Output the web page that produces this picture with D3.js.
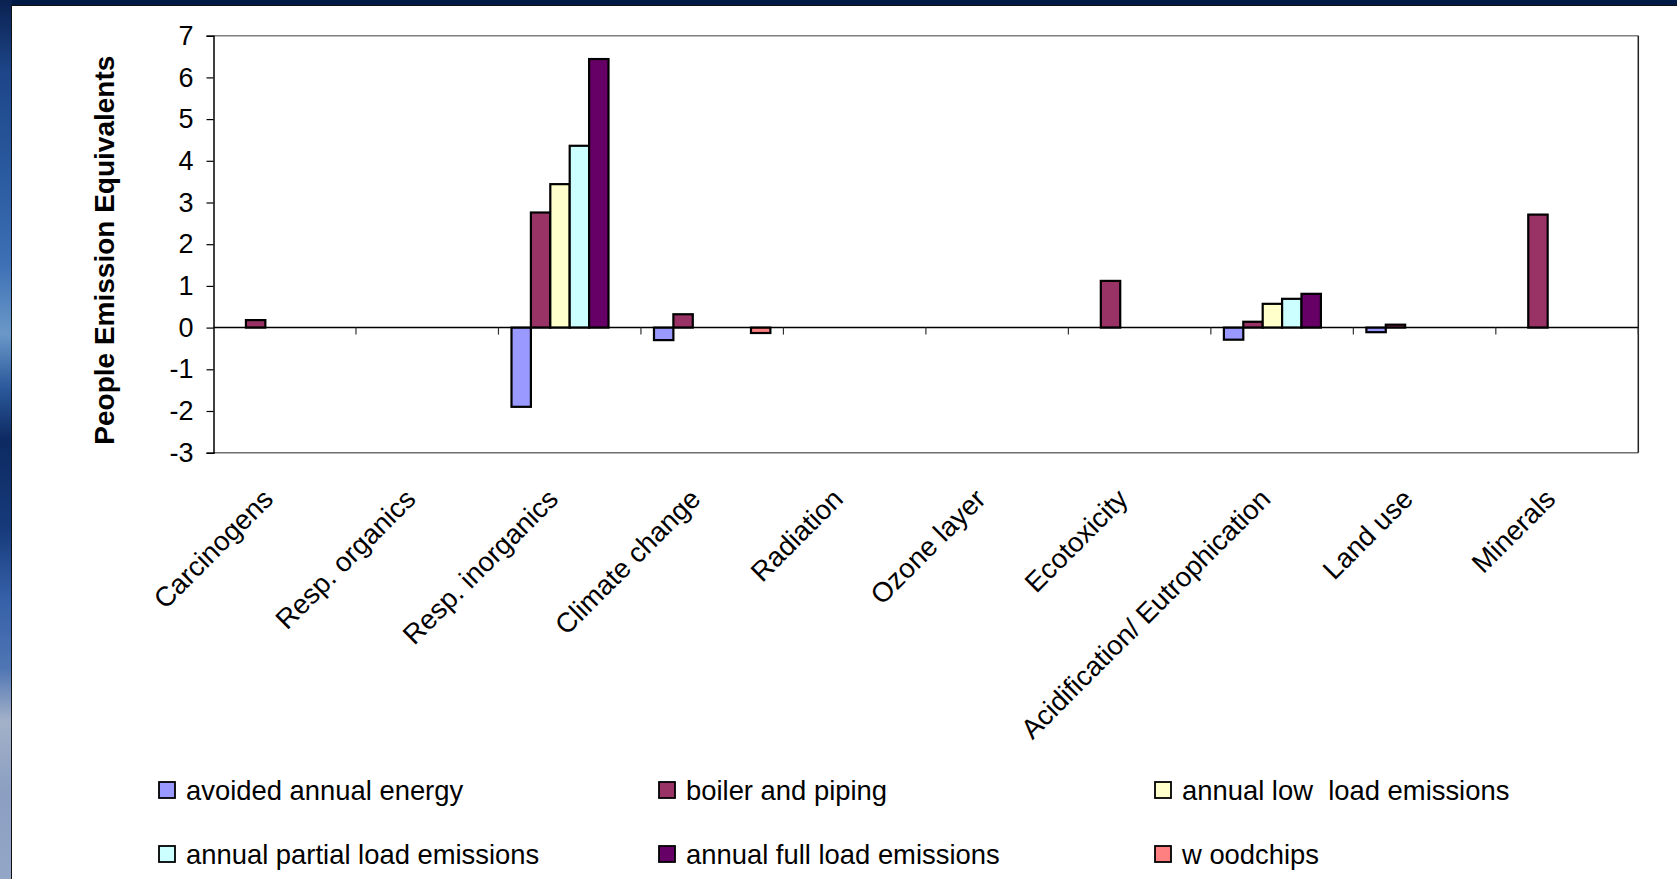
<!DOCTYPE html>
<html>
<head>
<meta charset="utf-8">
<script src="https://cdn.jsdelivr.net/npm/d3@7"></script>
<style>
  html, body { margin: 0; padding: 0; background: #0b2558; }
  svg { display: block; }
  text { font-family: "Liberation Sans", Arial, sans-serif; fill: #000; }
</style>
</head>
<body>
<svg id="chart" width="1677" height="879"></svg>
<script>
// Impact categories along the x axis
const categories = [
  "Carcinogens", "Resp. organics", "Resp. inorganics", "Climate change",
  "Radiation", "Ozone layer", "Ecotoxicity", "Acidification/ Eutrophication",
  "Land use", "Minerals"
];

// Series names, as printed in the legend
const seriesNames = [
  "avoided annual energy", "boiler and piping", "annual low  load emissions",
  "annual partial load emissions", "annual full load emissions", "w oodchips"
];

// Values per series, one per category (People Emission Equivalents)
const avoidedAnnualEnergy   = [0, 0, -1.90, -0.30, 0, 0, 0, -0.29, -0.11, 0];
const boilerAndPiping       = [0.18, 0, 2.76, 0.32, 0, 0, 1.12, 0.14, 0.07, 2.71];
const annualLowLoad         = [0, 0, 3.44, 0, 0, 0, 0, 0.57, 0, 0];
const annualPartialLoad     = [0, 0, 4.36, 0, 0, 0, 0, 0.69, 0, 0];
const annualFullLoad        = [0, 0, 6.44, 0, 0, 0, 0, 0.81, 0, 0];
const woodchips             = [0, 0, 0, -0.13, 0, 0, 0, 0, 0, 0];

const seriesValues = [avoidedAnnualEnergy, boilerAndPiping, annualLowLoad,
                      annualPartialLoad, annualFullLoad, woodchips];

const seriesColors = ["#9999FF", "#993366", "#FFFFCC", "#CCFFFF", "#660066", "#FF8080"];

// Y axis ticks
const yTicks = [-3, -2, -1, 0, 1, 2, 3, 4, 5, 6, 7];
const yTitle = "People Emission Equivalents";

const W = 1677, H = 879;
const svg = d3.select("#chart");
const defs = svg.append("defs");

// ---- slide background: navy frame with a textured blue strip on the left
const g1 = defs.append("linearGradient").attr("id", "leftStrip")
  .attr("x1", 0).attr("y1", 0).attr("x2", 0).attr("y2", 1);
[[0, "#0a2150"], [0.08, "#1d4588"], [0.2, "#2a5aa0"], [0.3, "#3d70b5"],
 [0.38, "#6b98c8"], [0.44, "#2c5a9c"], [0.5, "#0d2a62"], [0.6, "#163a7a"],
 [0.68, "#3560a8"], [0.76, "#4f75b4"], [0.82, "#a3b1c8"], [0.9, "#8c9fc2"],
 [1, "#93a6c8"]].forEach(([o, c]) => g1.append("stop").attr("offset", o).attr("stop-color", c));

svg.append("rect").attr("width", W).attr("height", H).attr("fill", "#0b2558");
svg.append("rect").attr("x", 0).attr("y", 0).attr("width", 12).attr("height", H)
  .attr("fill", "url(#leftStrip)");
svg.append("rect").attr("x", 12).attr("y", 0).attr("width", W - 12).attr("height", 5)
  .attr("fill", "#001a45");
svg.append("rect").attr("x", 11).attr("y", 5).attr("width", W - 11).attr("height", H - 5)
  .attr("fill", "#111");
svg.append("rect").attr("x", 12).attr("y", 6).attr("width", W - 12).attr("height", H - 6)
  .attr("fill", "#ffffff");

// ---- plot area
const plot = { left: 213.5, right: 1638.3, top: 35.7, bottom: 452.7 };

const x0 = d3.scaleBand().domain(categories).range([plot.left, plot.right])
  .paddingInner(0).paddingOuter(0);
const x1 = d3.scaleBand().domain(d3.range(seriesNames.length))
  .range([0, x0.bandwidth()]).paddingInner(0).paddingOuter(0.672);
const y = d3.scaleLinear().domain([-3, 7]).range([plot.bottom, plot.top]);

// plot frame
svg.append("line").attr("x1", plot.left).attr("x2", plot.right)
  .attr("y1", plot.top).attr("y2", plot.top).attr("stroke", "#7f7f7f").attr("stroke-width", 1.5);
svg.append("line").attr("x1", plot.left).attr("x2", plot.right)
  .attr("y1", plot.bottom).attr("y2", plot.bottom).attr("stroke", "#6f6f6f").attr("stroke-width", 1.5);
svg.append("line").attr("x1", plot.right).attr("x2", plot.right)
  .attr("y1", plot.top).attr("y2", plot.bottom).attr("stroke", "#222").attr("stroke-width", 1.5);

// bars
const barData = [];
seriesValues.forEach((vals, s) => {
  vals.forEach((v, c) => { if (v !== 0) barData.push({ s, c, v }); });
});
svg.append("g").selectAll("rect").data(barData).join("rect")
  .attr("x", d => x0(categories[d.c]) + x1(d.s))
  .attr("width", x1.bandwidth())
  .attr("y", d => y(Math.max(0, d.v)))
  .attr("height", d => Math.abs(y(d.v) - y(0)))
  .attr("fill", d => seriesColors[d.s])
  .attr("stroke", "#000")
  .attr("stroke-width", 2.2);

// category axis on the zero line
const xAxisG = svg.append("g");
xAxisG.append("line").attr("x1", plot.left).attr("x2", plot.right)
  .attr("y1", y(0)).attr("y2", y(0)).attr("stroke", "#000").attr("stroke-width", 1.5);
xAxisG.selectAll("line.tick").data(d3.range(1, categories.length + 1)).join("line")
  .attr("class", "tick")
  .attr("x1", i => plot.left + i * x0.step()).attr("x2", i => plot.left + i * x0.step())
  .attr("y1", y(0)).attr("y2", y(0) + 7)
  .attr("stroke", "#333").attr("stroke-width", 1.2);

// category labels, rotated, below the plot area
svg.append("g").selectAll("text").data(categories).join("text")
  .attr("transform", d => `translate(${x0(d) + x0.bandwidth() / 2 - 10},${plot.bottom + 48}) rotate(-45)`)
  .attr("text-anchor", "end")
  .attr("font-size", 27.6)
  .text(d => d);

// value axis
const yAxis = d3.axisLeft(y).tickValues(yTicks).tickSize(7).tickPadding(13)
  .tickFormat(d => String(d));
const yAxisG = svg.append("g").attr("transform", `translate(${plot.left},0)`).call(yAxis);
yAxisG.select(".domain").attr("stroke", "#000").attr("stroke-width", 1.5);
yAxisG.selectAll(".tick line").attr("stroke", "#000").attr("stroke-width", 1.2);
yAxisG.selectAll(".tick text").attr("font-size", 27)
  .attr("font-family", "'Liberation Sans', Arial, sans-serif").attr("fill", "#000");

svg.append("text")
  .attr("transform", `translate(114,${(plot.top + plot.bottom) / 2 + 6}) rotate(-90)`)
  .attr("text-anchor", "middle")
  .attr("font-size", 28).attr("font-weight", "bold")
  .text(yTitle);

// legend: two rows of three
const legendCols = [159, 659, 1155];
const legendRows = [790, 854];
const legend = svg.append("g").selectAll("g").data(seriesNames).join("g")
  .attr("transform", (d, i) => `translate(${legendCols[i % 3]},${legendRows[Math.floor(i / 3)]})`);
legend.append("rect").attr("x", 0).attr("y", -8).attr("width", 16).attr("height", 16)
  .attr("fill", (d, i) => seriesColors[i]).attr("stroke", "#000").attr("stroke-width", 1.8);
legend.append("text").attr("x", 27).attr("y", 0).attr("dy", "0.35em")
  .attr("font-size", 27.4).style("white-space", "pre")
  .text(d => d);
</script>
</body>
</html>
